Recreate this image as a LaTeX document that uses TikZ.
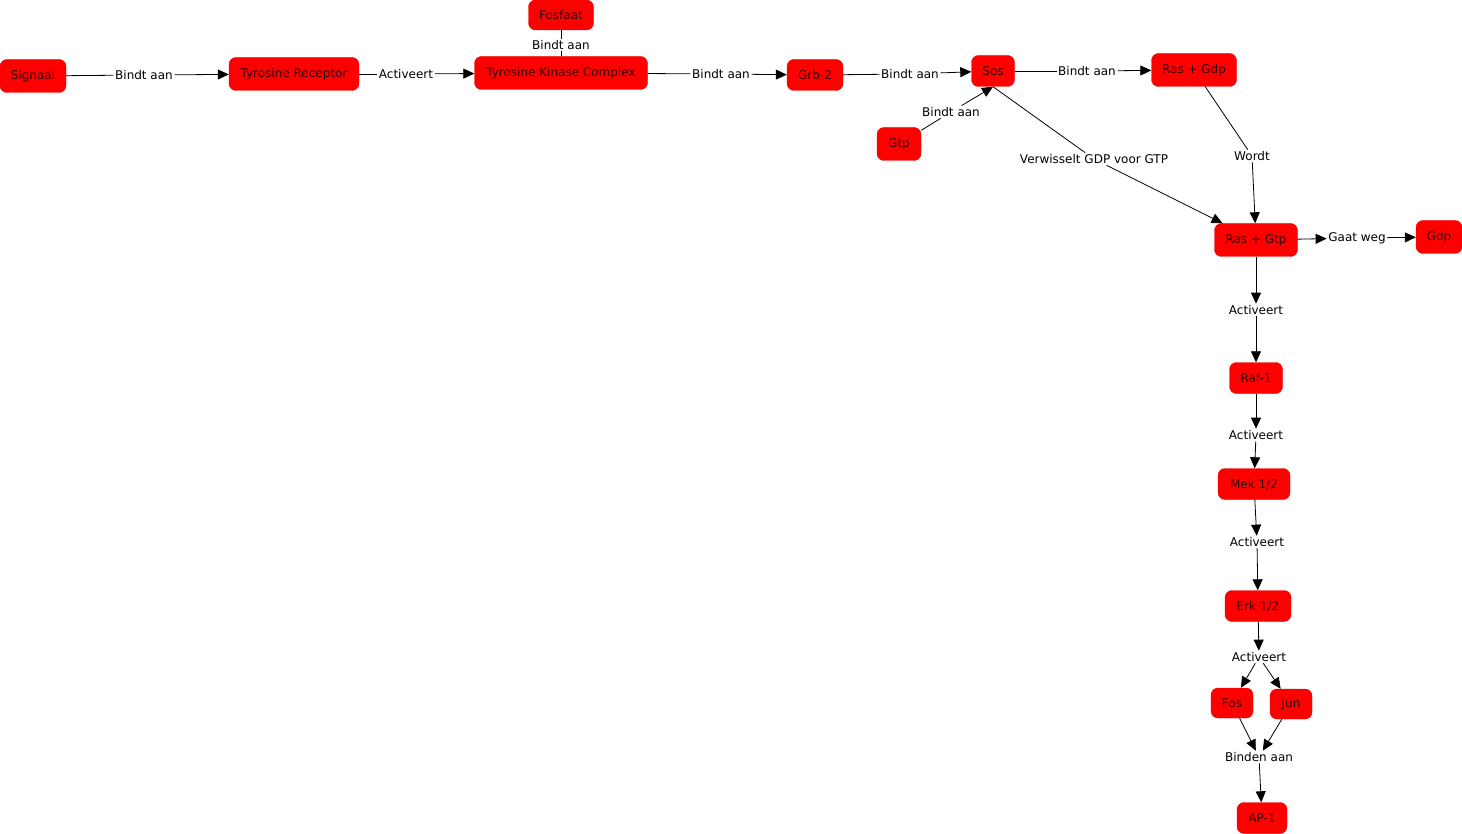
\documentclass[tikz,border=0pt]{standalone}
\usepackage{fontspec}
\setmainfont{DejaVu Sans}
\usetikzlibrary{arrows.meta}

\begin{document}
\begin{tikzpicture}[x=1pt, y=-1pt,
        concept/.style={fill=conceptcolor, draw=conceptborder, rounded corners=7pt, text=textcolor,
            inner sep=0pt, font=\fontsize{12}{14}\selectfont},
        phrase/.style={inner sep=1.5pt, font=\fontsize{12}{14}\selectfont},
        link/.style={line width=0.8pt, black},
        arrow/.style={link, -{Triangle[length=11pt, width=10pt]}}]
        % Define colors
        \definecolor{conceptcolor}{RGB}{255, 0, 0}   % Red
        \definecolor{conceptborder}{RGB}{235, 0, 0}  % Dark red
        \definecolor{textcolor}{RGB}{50, 0, 0}       % Almost black

        \useasboundingbox (0,0) rectangle (1462,834);

        % Draw the concepts
        \node[concept, minimum width=66pt, minimum height=33pt] (signaal) at (33,76) {Signaal};
        \node[concept, minimum width=130pt, minimum height=33pt] (receptor) at (294,74) {Tyrosine Receptor};
        \node[concept, minimum width=173pt, minimum height=33pt] (kinase) at (561,73) {Tyrosine Kinase Complex};
        \node[concept, minimum width=65pt, minimum height=30pt] (fosfaat) at (561,15) {Fosfaat};
        \node[concept, minimum width=56pt, minimum height=31pt] (grb) at (815,75) {Grb-2};
        \node[concept, minimum width=43pt, minimum height=31pt] (sos) at (993,71) {Sos};
        \node[concept, minimum width=44pt, minimum height=33pt] (gtp) at (899,144) {Gtp};
        \node[concept, minimum width=85pt, minimum height=33pt] (rasgdp) at (1194,70) {Ras + Gdp};
        \node[concept, minimum width=83pt, minimum height=33pt] (rasgtp) at (1256,240) {Ras + Gtp};
        \node[concept, minimum width=46pt, minimum height=33pt] (gdp) at (1439,237) {Gdp};
        \node[concept, minimum width=53pt, minimum height=31pt] (raf) at (1256,378) {Raf-1};
        \node[concept, minimum width=72pt, minimum height=31pt] (mek) at (1254,484) {Mek 1/2};
        \node[concept, minimum width=66pt, minimum height=31pt] (erk) at (1258,606) {Erk 1/2};
        \node[concept, minimum width=42pt, minimum height=30pt] (fos) at (1232,703) {Fos};
        \node[concept, minimum width=42pt, minimum height=30pt] (jun) at (1291,704) {Jun};
        \node[concept, minimum width=50pt, minimum height=31pt] (ap) at (1262,818) {AP-1};

        % Draw the linking phrases
        \node[phrase] (p1) at (144,75) {Bindt aan};
        \node[phrase] (p2) at (406,74) {Activeert};
        \node[phrase] (p3) at (561,45) {Bindt aan};
        \node[phrase] (p4) at (721,74) {Bindt aan};
        \node[phrase] (p5) at (910,74) {Bindt aan};
        \node[phrase] (p6) at (951,112) {Bindt aan};
        \node[phrase] (p7) at (1087,71) {Bindt aan};
        \node[phrase] (p8) at (1094,159) {Verwisselt GDP voor GTP};
        \node[phrase] (p9) at (1252,156) {Wordt};
        \node[phrase] (p10) at (1357,238) {Gaat weg};
        \node[phrase] (p11) at (1256,310) {Activeert};
        \node[phrase] (p12) at (1256,435) {Activeert};
        \node[phrase] (p13) at (1257,542) {Activeert};
        \node[phrase] (p14) at (1259,657) {Activeert};
        \node[phrase] (p15) at (1259,757) {Binden aan};

        % Draw the links
        \draw[link] (signaal) -- (p1);
        \draw[arrow] (p1) -- (receptor);
        \draw[link] (receptor) -- (p2);
        \draw[arrow] (p2) -- (kinase);
        \draw[link] (fosfaat) -- (p3);
        \draw[link] (p3) -- (kinase);
        \draw[link] (kinase) -- (p4);
        \draw[arrow] (p4) -- (grb);
        \draw[link] (grb) -- (p5);
        \draw[arrow] (p5) -- (sos);
        \draw[link] (gtp) -- (p6);
        \draw[arrow] (p6) -- (sos.south);
        \draw[link] (sos) -- (p7);
        \draw[arrow] (p7) -- (rasgdp);
        \draw[link] (sos.south) -- (p8);
        \draw[arrow] (p8) -- (rasgtp);
        \draw[link] (rasgdp) -- (p9);
        \draw[arrow] (p9) -- (rasgtp);
        \draw[arrow] (rasgtp) -- (p10);
        \draw[arrow] (p10) -- (gdp);

        % Draw the cascade
        \draw[arrow] (rasgtp) -- (p11);
        \draw[arrow] (p11) -- (raf);
        \draw[arrow] (raf) -- (p12);
        \draw[arrow] (p12) -- (mek);
        \draw[arrow] (mek) -- (p13);
        \draw[arrow] (p13) -- (erk);
        \draw[arrow] (erk) -- (p14);
        \draw[arrow] (p14) -- (fos);
        \draw[arrow] (p14) -- (jun);
        \draw[arrow] (fos) -- (p15);
        \draw[arrow] (jun) -- (p15);
        \draw[arrow] (p15) -- (ap);
    \end{tikzpicture}
\end{document}
